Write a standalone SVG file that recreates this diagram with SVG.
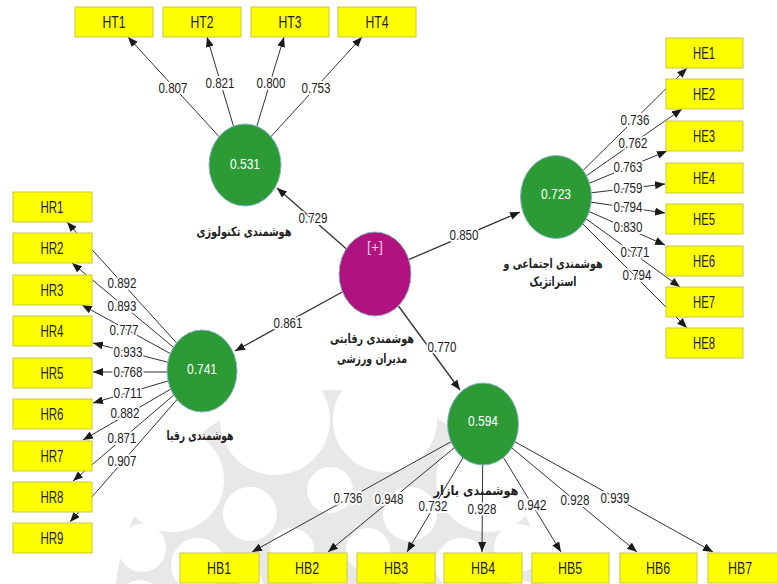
<svg xmlns="http://www.w3.org/2000/svg" width="777" height="584" viewBox="0 0 777 584">
<style>
.bg{fill:#fff}
.wmg{fill:#e8e8e8}
.wmw{fill:#fff}
.c{stroke:#333;stroke-width:1;fill:none;marker-end:url(#ah)}
.s{stroke:#333;stroke-width:1.3;fill:none;marker-end:url(#ah)}
.v{font-family:"Liberation Sans",Arial,sans-serif;font-size:15px;fill:#222;text-anchor:middle;stroke:#fff;stroke-width:4;paint-order:stroke;stroke-linejoin:round}
.box{fill:#ffff00;stroke:#c8c83c;stroke-width:1}
.bt{font-family:"Liberation Sans",Arial,sans-serif;font-size:16px;fill:#222;text-anchor:middle}
.g{fill:#2d9b35;stroke:#8ab4c8;stroke-width:1}
.p{fill:#b0127e;stroke:#8ab4c8;stroke-width:1}
.cv{font-family:"Liberation Sans",Arial,sans-serif;font-size:15px;fill:#fff;text-anchor:middle}
.pl{font-family:"DejaVu Sans","Noto Sans",sans-serif;font-size:13px;font-weight:bold;fill:#222;text-anchor:middle}
</style>
<defs>
<marker id="ah" viewBox="0 0 10 8" refX="10" refY="4" markerWidth="10" markerHeight="8" markerUnits="userSpaceOnUse" orient="auto"><path d="M0,0L10,4L0,8z" fill="#1a1a1a"/></marker>
</defs>
<rect class="bg" x="0" y="0" width="777" height="584"/>
<g id="watermark">
<circle class="wmg" cx="330" cy="605" r="215"/>
<circle class="wmw" cx="275" cy="420" r="55"/>
<circle class="wmw" cx="385" cy="420" r="52"/>
<circle class="wmw" cx="172" cy="480" r="52"/>
<circle class="wmw" cx="488" cy="480" r="52"/>
<circle class="wmw" cx="330" cy="490" r="23"/>
<circle class="wmw" cx="250" cy="514" r="27"/>
<circle class="wmw" cx="410" cy="514" r="27"/>
<circle class="wmw" cx="292" cy="550" r="22"/>
<circle class="wmw" cx="368" cy="550" r="22"/>
<circle class="wmw" cx="330" cy="584" r="17"/>
<circle class="wmw" cx="198" cy="565" r="27"/>
<circle class="wmw" cx="462" cy="565" r="27"/>
<circle class="wmw" cx="142" cy="548" r="24"/>
<circle class="wmw" cx="518" cy="548" r="24"/>
<circle class="wmw" cx="250" cy="584" r="13"/>
<circle class="wmw" cx="410" cy="584" r="13"/>
<circle class="wmw" cx="140" cy="600" r="20"/>
<circle class="wmw" cx="520" cy="600" r="20"/>
</g>
<g id="connectors">
<line class="s" x1="375" y1="274" x2="277" y2="188"/>
<line class="s" x1="375" y1="274" x2="520" y2="212"/>
<line class="s" x1="375" y1="274" x2="235" y2="351"/>
<line class="s" x1="375" y1="274" x2="460" y2="390"/>
<line class="c" x1="245" y1="165" x2="128" y2="37"/>
<line class="c" x1="245" y1="165" x2="207" y2="37"/>
<line class="c" x1="245" y1="165" x2="284" y2="37"/>
<line class="c" x1="245" y1="165" x2="362" y2="37"/>
<line class="c" x1="202" y1="371" x2="67" y2="222"/>
<line class="c" x1="202" y1="371" x2="72" y2="263"/>
<line class="c" x1="202" y1="371" x2="82" y2="305"/>
<line class="c" x1="202" y1="371" x2="93" y2="343"/>
<line class="c" x1="202" y1="372" x2="93" y2="372"/>
<line class="c" x1="202" y1="371" x2="93" y2="403"/>
<line class="c" x1="202" y1="371" x2="83" y2="440"/>
<line class="c" x1="202" y1="371" x2="73" y2="481"/>
<line class="c" x1="202" y1="371" x2="70" y2="522"/>
<line class="c" x1="556" y1="197" x2="687" y2="68"/>
<line class="c" x1="556" y1="197" x2="682" y2="109"/>
<line class="c" x1="556" y1="197" x2="667" y2="151"/>
<line class="c" x1="556" y1="197" x2="665" y2="184"/>
<line class="c" x1="556" y1="197" x2="665" y2="213"/>
<line class="c" x1="556" y1="197" x2="665" y2="245"/>
<line class="c" x1="556" y1="197" x2="680" y2="287"/>
<line class="c" x1="556" y1="197" x2="687" y2="328"/>
<line class="c" x1="483" y1="424" x2="252" y2="552"/>
<line class="c" x1="483" y1="424" x2="328" y2="552"/>
<line class="c" x1="483" y1="424" x2="407" y2="552"/>
<line class="c" x1="483" y1="424" x2="482" y2="552"/>
<line class="c" x1="483" y1="424" x2="561" y2="552"/>
<line class="c" x1="483" y1="424" x2="637" y2="552"/>
<line class="c" x1="483" y1="424" x2="713" y2="552"/>
<text class="v" x="313" y="223" textLength="29" lengthAdjust="spacingAndGlyphs">0.729</text>
<text class="v" x="464" y="240" textLength="29" lengthAdjust="spacingAndGlyphs">0.850</text>
<text class="v" x="288" y="328" textLength="29" lengthAdjust="spacingAndGlyphs">0.861</text>
<text class="v" x="442" y="352" textLength="29" lengthAdjust="spacingAndGlyphs">0.770</text>
<text class="v" x="173" y="93" textLength="29" lengthAdjust="spacingAndGlyphs">0.807</text>
<text class="v" x="220" y="88" textLength="29" lengthAdjust="spacingAndGlyphs">0.821</text>
<text class="v" x="271" y="88" textLength="29" lengthAdjust="spacingAndGlyphs">0.800</text>
<text class="v" x="316" y="93" textLength="29" lengthAdjust="spacingAndGlyphs">0.753</text>
<text class="v" x="122" y="288" textLength="29" lengthAdjust="spacingAndGlyphs">0.892</text>
<text class="v" x="122" y="311" textLength="29" lengthAdjust="spacingAndGlyphs">0.893</text>
<text class="v" x="124" y="335" textLength="29" lengthAdjust="spacingAndGlyphs">0.777</text>
<text class="v" x="128" y="357" textLength="29" lengthAdjust="spacingAndGlyphs">0.933</text>
<text class="v" x="128" y="377" textLength="29" lengthAdjust="spacingAndGlyphs">0.768</text>
<text class="v" x="128" y="398" textLength="29" lengthAdjust="spacingAndGlyphs">0.711</text>
<text class="v" x="125" y="418" textLength="29" lengthAdjust="spacingAndGlyphs">0.882</text>
<text class="v" x="122" y="443" textLength="29" lengthAdjust="spacingAndGlyphs">0.871</text>
<text class="v" x="122" y="466" textLength="29" lengthAdjust="spacingAndGlyphs">0.907</text>
<text class="v" x="635" y="125" textLength="29" lengthAdjust="spacingAndGlyphs">0.736</text>
<text class="v" x="633" y="148" textLength="29" lengthAdjust="spacingAndGlyphs">0.762</text>
<text class="v" x="628" y="172" textLength="29" lengthAdjust="spacingAndGlyphs">0.763</text>
<text class="v" x="628" y="193" textLength="29" lengthAdjust="spacingAndGlyphs">0.759</text>
<text class="v" x="628" y="212" textLength="29" lengthAdjust="spacingAndGlyphs">0.794</text>
<text class="v" x="628" y="232" textLength="29" lengthAdjust="spacingAndGlyphs">0.830</text>
<text class="v" x="635" y="257" textLength="29" lengthAdjust="spacingAndGlyphs">0.771</text>
<text class="v" x="637" y="280" textLength="29" lengthAdjust="spacingAndGlyphs">0.794</text>
<text class="v" x="348" y="503" textLength="29" lengthAdjust="spacingAndGlyphs">0.736</text>
<text class="v" x="389" y="504" textLength="29" lengthAdjust="spacingAndGlyphs">0.948</text>
<text class="v" x="433" y="511" textLength="29" lengthAdjust="spacingAndGlyphs">0.732</text>
<text class="v" x="482" y="514" textLength="29" lengthAdjust="spacingAndGlyphs">0.928</text>
<text class="v" x="532" y="510" textLength="29" lengthAdjust="spacingAndGlyphs">0.942</text>
<text class="v" x="575" y="505" textLength="29" lengthAdjust="spacingAndGlyphs">0.928</text>
<text class="v" x="615" y="503" textLength="29" lengthAdjust="spacingAndGlyphs">0.939</text>
</g>
<g id="competitive">
<ellipse class="p" cx="375" cy="274" rx="36" ry="42"/>
<text x="375" y="252" font-family="Liberation Sans,Arial,sans-serif" font-size="14" fill="#f2c6e4" text-anchor="middle">[+]</text>
<text class="pl" x="372" y="343" textLength="84" lengthAdjust="spacingAndGlyphs">هوشمندی رقابتی</text>
<text class="pl" x="372" y="363" textLength="70" lengthAdjust="spacingAndGlyphs">مدیران ورزشی</text>
</g>
<g id="tech">
<ellipse class="g" cx="245" cy="165" rx="36" ry="41"/>
<text class="cv" x="245" y="169" textLength="30" lengthAdjust="spacingAndGlyphs">0.531</text>
<text class="pl" x="244" y="236" textLength="95" lengthAdjust="spacingAndGlyphs">هوشمندی تکنولوژی</text>
</g>
<g id="social">
<ellipse class="g" cx="556" cy="197" rx="35.5" ry="41.5"/>
<text class="cv" x="556" y="199" textLength="30" lengthAdjust="spacingAndGlyphs">0.723</text>
<text class="pl" x="553" y="268" textLength="99" lengthAdjust="spacingAndGlyphs">هوشمندی اجتماعی و</text>
<text class="pl" x="553" y="286" textLength="47" lengthAdjust="spacingAndGlyphs">استراتژیک</text>
</g>
<g id="rivals">
<ellipse class="g" cx="202" cy="371" rx="35" ry="41"/>
<text class="cv" x="202" y="374" textLength="30" lengthAdjust="spacingAndGlyphs">0.741</text>
<text class="pl" x="200" y="440" textLength="67" lengthAdjust="spacingAndGlyphs">هوشمندی رقبا</text>
</g>
<g id="market">
<ellipse class="g" cx="483" cy="424" rx="35.5" ry="41"/>
<text class="cv" x="483" y="426" textLength="30" lengthAdjust="spacingAndGlyphs">0.594</text>
<text class="pl" x="476" y="495" textLength="85" lengthAdjust="spacingAndGlyphs">هوشمندی بازار</text>
</g>
<g id="HT1"><rect class="box" x="75" y="7" width="78" height="30"/><text class="bt" x="114" y="28" textLength="23" lengthAdjust="spacingAndGlyphs">HT1</text></g>
<g id="HT2"><rect class="box" x="163" y="7" width="78" height="30"/><text class="bt" x="202" y="28" textLength="23" lengthAdjust="spacingAndGlyphs">HT2</text></g>
<g id="HT3"><rect class="box" x="251" y="7" width="78" height="30"/><text class="bt" x="290" y="28" textLength="23" lengthAdjust="spacingAndGlyphs">HT3</text></g>
<g id="HT4"><rect class="box" x="338" y="7" width="78" height="30"/><text class="bt" x="377" y="28" textLength="23" lengthAdjust="spacingAndGlyphs">HT4</text></g>
<g id="HR1"><rect class="box" x="13" y="192" width="79" height="30"/><text class="bt" x="52" y="213" textLength="23" lengthAdjust="spacingAndGlyphs">HR1</text></g>
<g id="HR2"><rect class="box" x="13" y="233" width="79" height="30"/><text class="bt" x="52" y="254" textLength="23" lengthAdjust="spacingAndGlyphs">HR2</text></g>
<g id="HR3"><rect class="box" x="13" y="275" width="79" height="30"/><text class="bt" x="52" y="296" textLength="23" lengthAdjust="spacingAndGlyphs">HR3</text></g>
<g id="HR4"><rect class="box" x="13" y="316" width="79" height="30"/><text class="bt" x="52" y="337" textLength="23" lengthAdjust="spacingAndGlyphs">HR4</text></g>
<g id="HR5"><rect class="box" x="13" y="358" width="79" height="30"/><text class="bt" x="52" y="379" textLength="23" lengthAdjust="spacingAndGlyphs">HR5</text></g>
<g id="HR6"><rect class="box" x="13" y="399" width="79" height="30"/><text class="bt" x="52" y="420" textLength="23" lengthAdjust="spacingAndGlyphs">HR6</text></g>
<g id="HR7"><rect class="box" x="13" y="441" width="79" height="30"/><text class="bt" x="52" y="462" textLength="23" lengthAdjust="spacingAndGlyphs">HR7</text></g>
<g id="HR8"><rect class="box" x="13" y="482" width="79" height="30"/><text class="bt" x="52" y="503" textLength="23" lengthAdjust="spacingAndGlyphs">HR8</text></g>
<g id="HR9"><rect class="box" x="13" y="523" width="79" height="30"/><text class="bt" x="52" y="544" textLength="23" lengthAdjust="spacingAndGlyphs">HR9</text></g>
<g id="HE1"><rect class="box" x="666" y="38" width="77" height="30"/><text class="bt" x="704" y="59" textLength="22" lengthAdjust="spacingAndGlyphs">HE1</text></g>
<g id="HE2"><rect class="box" x="666" y="79" width="77" height="30"/><text class="bt" x="704" y="100" textLength="22" lengthAdjust="spacingAndGlyphs">HE2</text></g>
<g id="HE3"><rect class="box" x="666" y="121" width="77" height="30"/><text class="bt" x="704" y="142" textLength="22" lengthAdjust="spacingAndGlyphs">HE3</text></g>
<g id="HE4"><rect class="box" x="666" y="163" width="77" height="30"/><text class="bt" x="704" y="184" textLength="22" lengthAdjust="spacingAndGlyphs">HE4</text></g>
<g id="HE5"><rect class="box" x="666" y="204" width="77" height="30"/><text class="bt" x="704" y="225" textLength="22" lengthAdjust="spacingAndGlyphs">HE5</text></g>
<g id="HE6"><rect class="box" x="666" y="246" width="77" height="30"/><text class="bt" x="704" y="267" textLength="22" lengthAdjust="spacingAndGlyphs">HE6</text></g>
<g id="HE7"><rect class="box" x="666" y="287" width="77" height="30"/><text class="bt" x="704" y="308" textLength="22" lengthAdjust="spacingAndGlyphs">HE7</text></g>
<g id="HE8"><rect class="box" x="666" y="328" width="77" height="30"/><text class="bt" x="704" y="349" textLength="22" lengthAdjust="spacingAndGlyphs">HE8</text></g>
<g id="HB1"><rect class="box" x="180" y="553" width="79" height="30"/><text class="bt" x="219" y="574" textLength="24" lengthAdjust="spacingAndGlyphs">HB1</text></g>
<g id="HB2"><rect class="box" x="268" y="553" width="79" height="30"/><text class="bt" x="307" y="574" textLength="24" lengthAdjust="spacingAndGlyphs">HB2</text></g>
<g id="HB3"><rect class="box" x="357" y="553" width="78" height="30"/><text class="bt" x="396" y="574" textLength="24" lengthAdjust="spacingAndGlyphs">HB3</text></g>
<g id="HB4"><rect class="box" x="444" y="553" width="78" height="30"/><text class="bt" x="483" y="574" textLength="24" lengthAdjust="spacingAndGlyphs">HB4</text></g>
<g id="HB5"><rect class="box" x="532" y="553" width="77" height="30"/><text class="bt" x="570" y="574" textLength="24" lengthAdjust="spacingAndGlyphs">HB5</text></g>
<g id="HB6"><rect class="box" x="620" y="553" width="77" height="30"/><text class="bt" x="658" y="574" textLength="24" lengthAdjust="spacingAndGlyphs">HB6</text></g>
<g id="HB7"><rect class="box" x="708" y="553" width="77" height="30"/><text class="bt" x="740" y="574" textLength="24" lengthAdjust="spacingAndGlyphs">HB7</text></g>
</svg>
